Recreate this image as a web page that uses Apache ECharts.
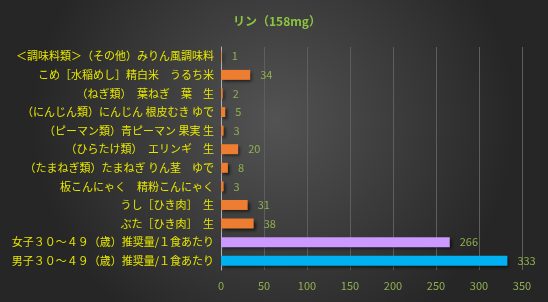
<!DOCTYPE html>
<html>
<head>
<meta charset="utf-8">
<script src="https://cdn.jsdelivr.net/npm/echarts@6/dist/echarts.min.js"></script>
<style>
  html, body { margin: 0; padding: 0; }
  #main { width: 548px; height: 302px; }
</style>
</head>
<body>
<div id="main"></div>
<script>
var foods = [
    '＜調味料類＞（その他）みりん風調味料',
    'こめ［水稲めし］精白米　うるち米',
    '（ねぎ類）　葉ねぎ　葉　生',
    '（にんじん類）にんじん 根皮むき ゆで',
    '（ピーマン類）青ピーマン 果実 生',
    '（ひらたけ類）　エリンギ　生',
    '（たまねぎ類）たまねぎ りん茎　ゆで',
    '板こんにゃく　精粉こんにゃく',
    'うし［ひき肉］　生',
    'ぶた［ひき肉］　生',
    '女子３０～４９（歳）推奨量/１食あたり',
    '男子３０～４９（歳）推奨量/１食あたり'
];
var phosphorus = [1, 34, 2, 5, 3, 20, 8, 3, 31, 38, 266, 333];
var barColors = ['#ed7d31', '#ed7d31', '#ed7d31', '#ed7d31', '#ed7d31', '#ed7d31',
    '#ed7d31', '#ed7d31', '#ed7d31', '#ed7d31', '#cc99ff', '#00b0f0'];

var chart = echarts.init(document.getElementById('main'));
var option = {
    backgroundColor: {
        type: 'radial', x: 0.5, y: 0.4, r: 0.8,
        colorStops: [
            { offset: 0, color: '#535353' },
            { offset: 1, color: '#262626' }
        ]
    },
    title: {
        text: 'リン（158mg）',
        left: 228,
        top: 10,
        textStyle: {
            color: '#8cc63f',
            fontSize: 12,
            fontWeight: 'bold',
            fontFamily: 'Noto Sans CJK JP'
        }
    },
    grid: { left: 221, right: 26, top: 47, bottom: 32 },
    xAxis: {
        type: 'value',
        min: 0,
        max: 350,
        interval: 50,
        axisLine: { show: false },
        axisTick: { show: false },
        axisLabel: { color: '#8fb050', fontSize: 11, fontFamily: 'Noto Sans CJK JP', margin: 10 },
        splitLine: { lineStyle: { color: '#5e5e5e', width: 1 } }
    },
    yAxis: {
        type: 'category',
        inverse: true,
        data: foods,
        axisLine: { show: true, lineStyle: { color: '#b0b0b0' } },
        axisTick: { show: false },
        axisLabel: { color: '#e6e600', fontSize: 11, fontFamily: 'Noto Sans CJK JP', margin: 7 }
    },
    series: [{
        type: 'bar',
        data: phosphorus.map(function (v, i) {
            return { value: v, itemStyle: { color: barColors[i] } };
        }),
        barWidth: 10,
        itemStyle: {
            shadowColor: 'rgba(0,0,0,0.6)',
            shadowBlur: 3,
            shadowOffsetX: 2,
            shadowOffsetY: 2
        },
        label: {
            show: true,
            position: 'right',
            distance: 10,
            color: '#8fb050',
            fontSize: 11,
            fontFamily: 'Noto Sans CJK JP'
        }
    }]
};
chart.setOption(option);
</script>
</body>
</html>
